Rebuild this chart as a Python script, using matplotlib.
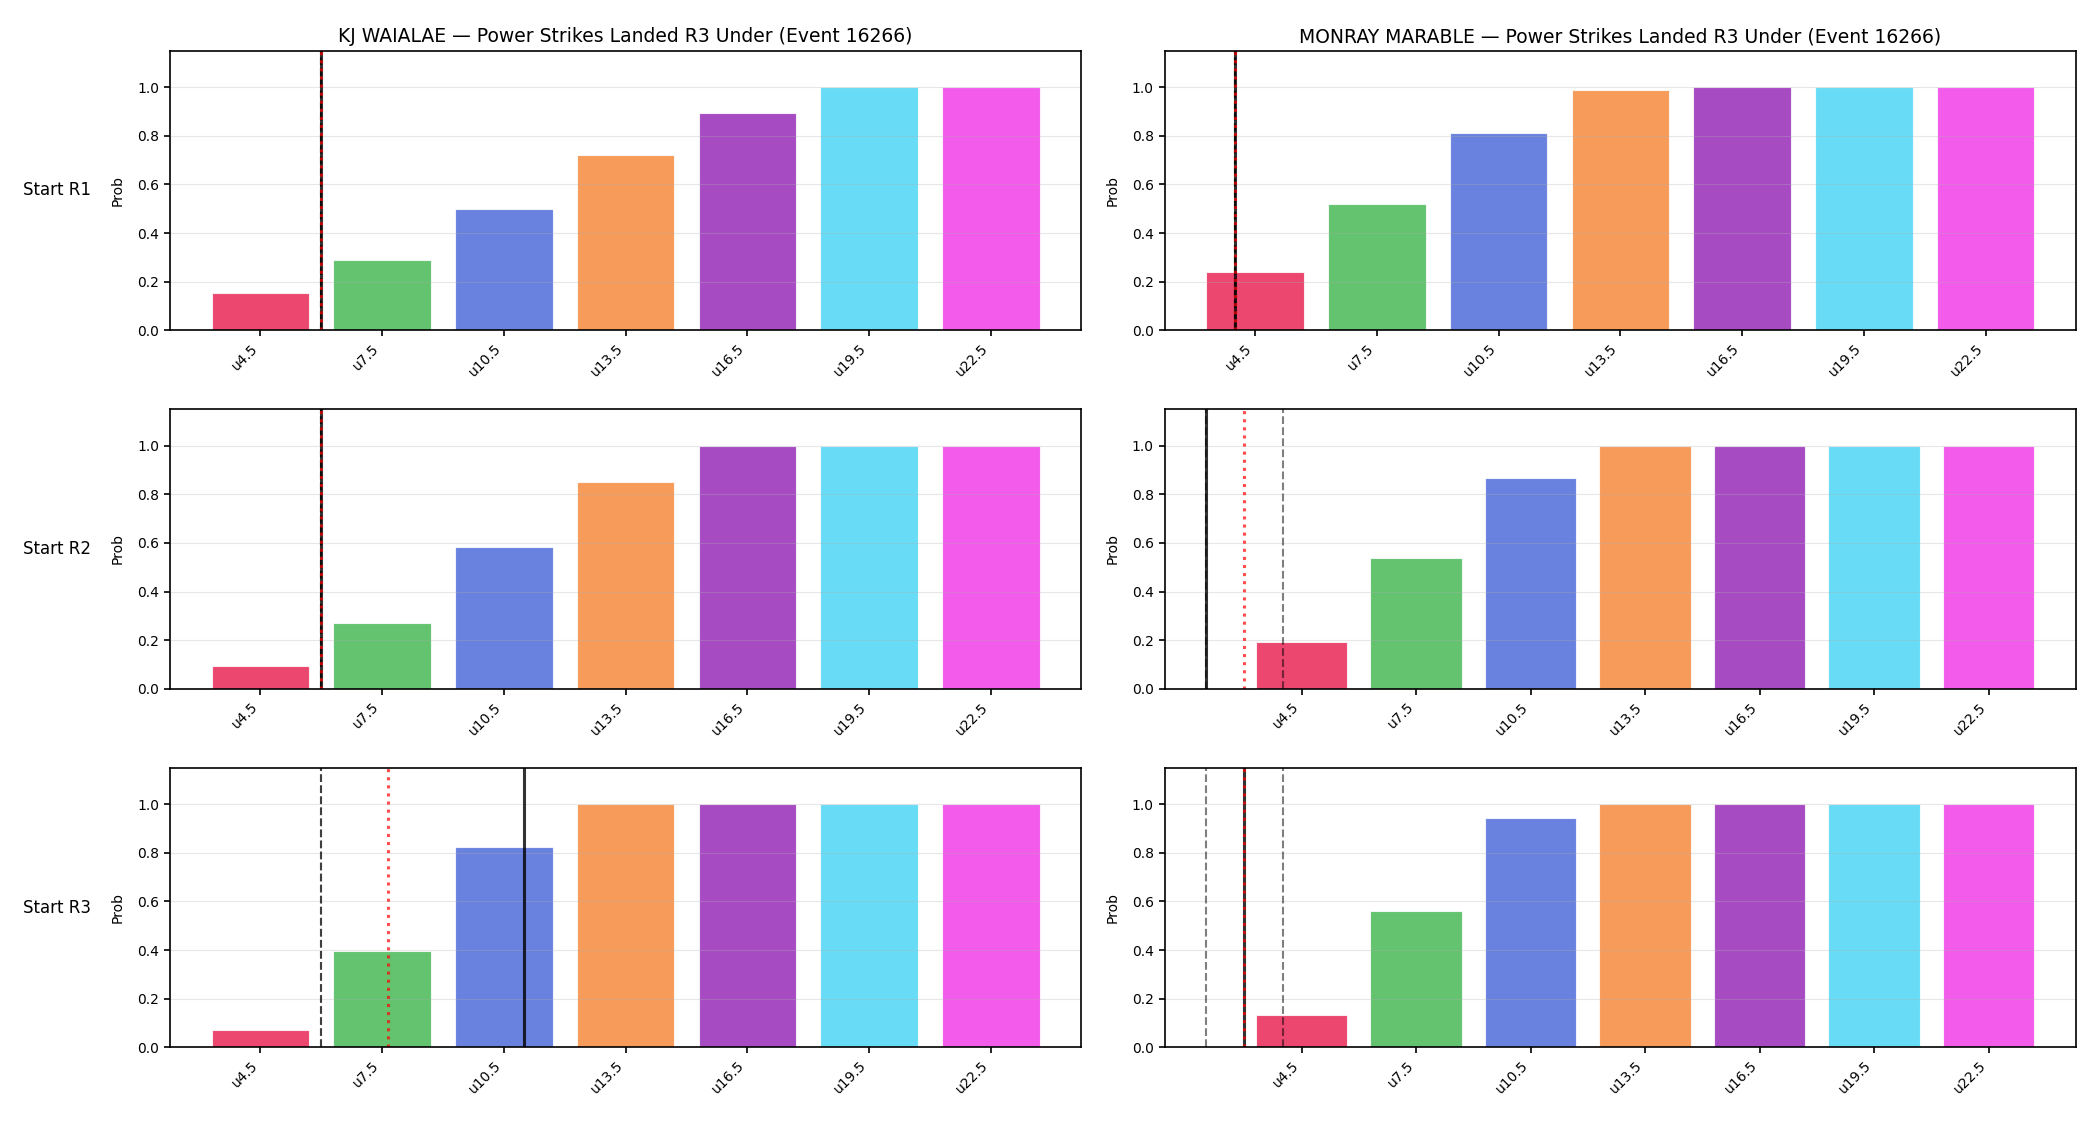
import matplotlib
matplotlib.use("Agg")
import matplotlib.pyplot as plt
import numpy as np

players = ["KJ WAIALAE", "MONRAY MARABLE"]
event_id = 16266
rounds = ["Start R1", "Start R2", "Start R3"]
thresholds = [4.5, 7.5, 10.5, 13.5, 16.5, 19.5, 22.5]
tick_labels = ["u4.5", "u7.5", "u10.5", "u13.5", "u16.5", "u19.5", "u22.5"]
colors = ["#e6194b", "#3cb44b", "#4363d8", "#f58231", "#911eb4", "#42d4f4", "#f032e6"]

# Under probabilities: rows = start round, one list per player
kj_probs = [
    [0.155, 0.29, 0.50, 0.72, 0.895, 1.0, 1.0],
    [0.094, 0.27, 0.585, 0.85, 1.0, 1.0, 1.0],
    [0.071, 0.396, 0.824, 1.0, 1.0, 1.0, 1.0],
]
mm_probs = [
    [0.24, 0.52, 0.812, 0.99, 1.0, 1.0, 1.0],
    [0.193, 0.536, 0.866, 1.0, 1.0, 1.0, 1.0],
    [0.133, 0.56, 0.945, 1.0, 1.0, 1.0, 1.0],
]

# reference lines (strike counts): low, high (dashed), projection (solid), line (dotted)
kj_low = [6, 6, 6]
kj_high = [6, 6, 6]
kj_proj = [6, 6, 11]
kj_line = [6, 6, 7.65]
mm_low = [4, 2, 2]
mm_high = [4, 4, 4]
mm_proj = [4, 2, 3]
mm_line = [4, 3, 3]

probs_all = [kj_probs, mm_probs]
low_all = [kj_low, mm_low]
high_all = [kj_high, mm_high]
proj_all = [kj_proj, mm_proj]
line_all = [kj_line, mm_line]


def to_pos(v):
    step = thresholds[1] - thresholds[0]
    return (v - thresholds[0]) / step


fig, axes = plt.subplots(3, 2, figsize=(21, 11.25), dpi=100)
fig.subplots_adjust(left=0.081, right=0.9885, top=0.955, bottom=0.069,
                    wspace=0.092, hspace=0.282)

x = np.arange(len(thresholds))
for c in range(2):
    for r in range(3):
        ax = axes[r, c]
        ax.bar(x, probs_all[c][r], width=0.8, color=colors, alpha=0.8,
               edgecolor="white", linewidth=0.8)
        ax.axvline(to_pos(low_all[c][r]), color="black", alpha=0.5,
                   linestyle="--", linewidth=1.5)
        ax.axvline(to_pos(high_all[c][r]), color="black", alpha=0.5,
                   linestyle="--", linewidth=1.5)
        ax.axvline(to_pos(proj_all[c][r]), color="black", alpha=0.8,
                   linestyle="-", linewidth=2.2)
        ax.axvline(to_pos(line_all[c][r]), color="red", alpha=0.7,
                   linestyle=":", linewidth=2.2)
        ax.set_ylim(0, 1.15)
        ax.set_xticks(x)
        ax.set_xticklabels(tick_labels, rotation=45, ha="right")
        ax.set_ylabel("Prob", labelpad=9)
        ax.grid(axis="y", alpha=0.3)
        for sp in ax.spines.values():
            sp.set_linewidth(1.2)
        ax.tick_params(width=1.2, length=4.5)
        if r == 0:
            ax.set_title(f"{players[c]} — Power Strikes Landed R3 Under (Event {event_id})",
                         fontsize=13.5)

for r in range(3):
    pos = axes[r, 0].get_position()
    fig.text(0.0434, (pos.y0 + pos.y1) / 2, rounds[r], ha="right", va="center",
             fontsize=12)

fig.savefig("out.png", dpi=100)
